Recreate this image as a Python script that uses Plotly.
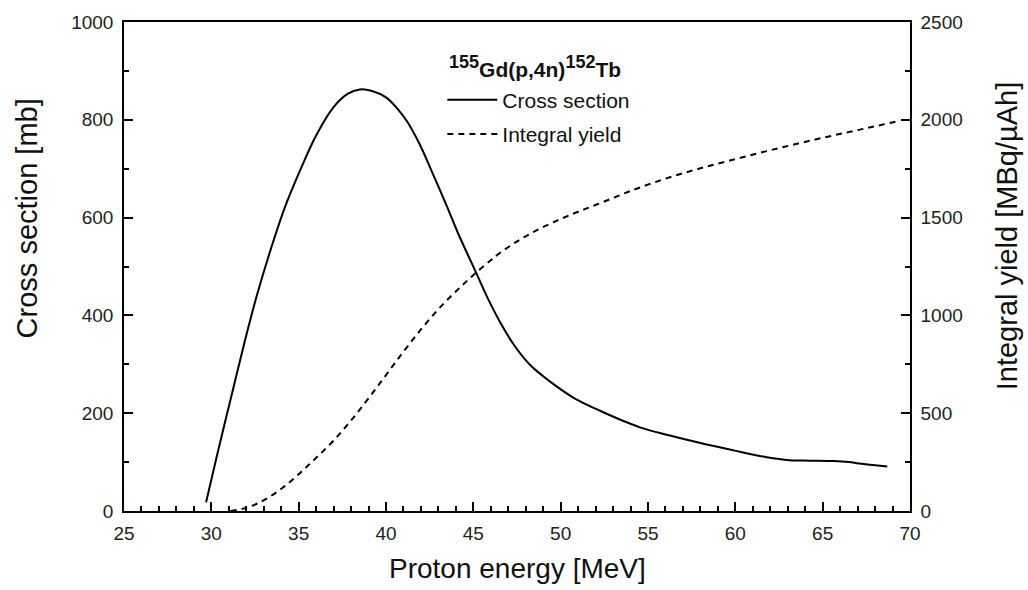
import plotly.graph_objects as go

# Cross section data
xs_energy = [29.7, 30.3, 31.1, 31.9, 32.6, 33.4, 34.2, 35.1, 36.0, 37.0, 37.8, 38.5,
             39.2, 40.0, 40.6, 41.2, 41.9, 42.7, 43.5, 44.1, 44.62, 45.19, 45.76, 46.52,
             47.28, 48.24, 49.38, 50.72, 52.25, 54.54, 56.2, 58.0, 59.9, 61.8, 63.1, 64.3,
             65.6, 66.5, 67.1, 68.7]
xs_value = [18, 110, 228, 345, 440, 535, 620, 698, 768, 826, 853, 862,
            859, 846, 825, 797, 752, 688, 622, 570, 529, 485, 440, 387,
            342, 299, 265, 232, 205, 171, 155, 139, 124, 110, 104, 103,
            102, 100, 97, 91]

# Integral yield data
y_energy = [31.1, 31.8, 32.5, 33.2, 34.1, 35.1, 36.0, 37.0, 38.0, 39.0, 40.0, 41.0,
            42.0, 43.0, 43.8, 44.5, 45.2, 46.0, 46.5, 47.7, 48.8, 50.0, 51.0, 52.1,
            54.0, 56.1, 58.0, 59.9, 61.8, 63.7, 65.6, 67.5, 69.4]
y_value = [0, 12, 33, 65, 120, 196, 272, 360, 463, 576, 695, 815,
           928, 1032, 1105, 1165, 1222, 1282, 1318, 1389, 1443, 1493, 1530, 1568,
           1636, 1702, 1752, 1797, 1840, 1881, 1920, 1957, 1995]

# Text
x_title = "Proton energy [MeV]"
y_title = "Cross section [mb]"
y2_title = "Integral yield [MBq/µAh]"
reaction_title = ("<b><sup><span style='font-size:18px'>155</span></sup>Gd(p,4n)"
                  "<sup><span style='font-size:18px'>152</span></sup>Tb</b>")

FONT = "Liberation Sans, Arial, sans-serif"

fig = go.Figure()
fig.add_trace(go.Scatter(x=xs_energy, y=xs_value, mode="lines", name="Cross section",
                         line=dict(color="black", width=2, shape="spline", smoothing=1.0),
                         legendgroup="a"))
fig.add_trace(go.Scatter(x=y_energy, y=y_value, mode="lines", name="Integral yield",
                         line=dict(color="black", width=2, dash="6px,5px", shape="spline", smoothing=1.0),
                         yaxis="y2", legendgroup="b"))

axis_common = dict(showline=True, linecolor="black", linewidth=1.5, ticks="inside",
                   ticklen=9, tickwidth=1.5, tickcolor="black", showgrid=False,
                   zeroline=False, tickfont=dict(size=19, color="#222", family=FONT))
minor_common = dict(ticks="inside", ticklen=5, tickwidth=1.5, tickcolor="black")

fig.update_layout(
    width=1028, height=590,
    margin=dict(l=124, r=118, t=18, b=79),
    paper_bgcolor="white", plot_bgcolor="white",
    font=dict(family=FONT, color="black"),
    xaxis=dict(range=[25, 70], dtick=5, tick0=25, mirror=True, ticklabelstandoff=4,
               minor=dict(dtick=1, **minor_common), **axis_common),
    yaxis=dict(range=[0, 1000], dtick=200, ticklabelstandoff=5,
               minor=dict(dtick=100, **minor_common), **axis_common),
    yaxis2=dict(range=[0, 2500], dtick=500, overlaying="y", side="right", ticklabelstandoff=5,
                minor=dict(dtick=250, **minor_common), **axis_common),
    legend=dict(x=0.405, y=(511 - 76) / 493, xanchor="left", yanchor="top",
                bgcolor="rgba(0,0,0,0)", font=dict(size=21, color="#111"),
                traceorder="grouped", tracegroupgap=4, itemwidth=50),
    showlegend=True,
    annotations=[
        dict(text=reaction_title, xref="paper", yref="paper", x=(447 - 124) / 786,
             y=(511 - 80) / 493, xanchor="left", yanchor="bottom", showarrow=False,
             font=dict(size=21, color="#111")),
        dict(text=x_title, xref="paper", yref="paper", x=0.5, y=(511 - 569) / 493,
             xanchor="center", yanchor="middle", showarrow=False,
             font=dict(size=28, color="#111")),
        dict(text=y_title, xref="paper", yref="paper", x=(27 - 124) / 786, y=(511 - 216) / 493,
             xanchor="center", yanchor="middle", showarrow=False, textangle=-90,
             font=dict(size=29, color="#111")),
        dict(text=y2_title, xref="paper", yref="paper", x=(1007 - 124) / 786, y=(511 - 234) / 493,
             xanchor="center", yanchor="middle", showarrow=False, textangle=-90,
             font=dict(size=29, color="#111")),
    ],
)

fig.write_html("out.html")
